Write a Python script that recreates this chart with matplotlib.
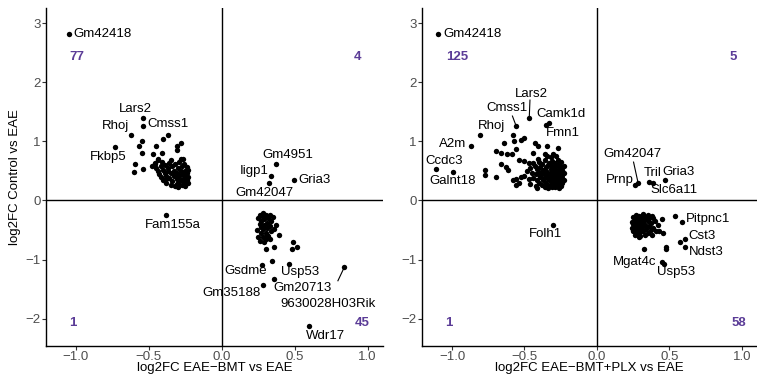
import matplotlib
matplotlib.use("Agg")
import matplotlib.pyplot as plt

plt.rcParams['font.family'] = ['Liberation Sans', 'DejaVu Sans']

# ---------------- EAE-BMT vs EAE ----------------
bmt_genes = ["Gm42418", "Lars2", "Cmss1", "Rhoj", "Fkbp5", "Gm4951", "Iigp1",
             "Gria3", "Gm42047", "Fam155a", "Gsdme", "Usp53", "Gm20713",
             "Gm35188", "9630028H03Rik", "Wdr17"]
bmt_gene_x = [-1.05, -0.54, -0.54, -0.62, -0.73, 0.373, 0.334,
              0.498, 0.325, -0.38, 0.279, 0.46, 0.359,
              0.281, 0.839, 0.601]
bmt_gene_y = [2.82, 1.39, 1.26, 1.11, 0.90, 0.615, 0.417,
              0.34, 0.29, -0.25, -1.085, -1.08, -1.33,
              -1.435, -1.135, -2.13]

bmt_other_x = [
    -0.40, -0.37, -0.545, -0.565, -0.55, -0.45, -0.41, -0.47, -0.595, -0.60,
    -0.54, -0.277, -0.307, -0.307, -0.268, -0.44, -0.46, -0.385,
    -0.46, -0.45, -0.44, -0.43, -0.42, -0.42, -0.41, -0.40, -0.40, -0.39,
    -0.39, -0.38, -0.38, -0.37, -0.37, -0.36, -0.36, -0.35, -0.35, -0.34,
    -0.34, -0.33, -0.33, -0.32, -0.32, -0.31, -0.31, -0.30, -0.30, -0.30,
    -0.29, -0.29, -0.28, -0.28, -0.27, -0.27, -0.27, -0.26, -0.26, -0.26,
    -0.25, -0.25, -0.25, -0.24, -0.24, -0.24, -0.23, -0.23, -0.23, -0.35,
    -0.44, -0.48, -0.31, -0.28,
    0.25, 0.26, 0.26, 0.27, 0.27, 0.28, 0.28, 0.28, 0.29, 0.29,
    0.30, 0.30, 0.30, 0.31, 0.31, 0.32, 0.32, 0.33, 0.33, 0.34,
    0.34, 0.35, 0.36, 0.25, 0.26, 0.29, 0.27, 0.31, 0.37, 0.24,
    0.33, 0.28,
    0.395, 0.306, 0.359, 0.487, 0.515, 0.48, 0.343,
]
bmt_other_y = [
    1.04, 1.11, 1.00, 0.93, 0.81, 0.925, 0.81, 0.78, 0.615, 0.485,
    0.54, 0.965, 0.925, 0.85, 0.695, 0.70, 0.64, 0.37,
    0.62, 0.55, 0.50, 0.45, 0.58, 0.40, 0.66, 0.52, 0.35, 0.46,
    0.60, 0.30, 0.42, 0.55, 0.50, 0.38, 0.64, 0.46, 0.27, 0.58,
    0.33, 0.42, 0.50, 0.62, 0.24, 0.36, 0.47, 0.55, 0.30, 0.22,
    0.42, 0.65, 0.50, 0.34, 0.27, 0.58, 0.45, 0.38, 0.31, 0.62,
    0.50, 0.43, 0.25, 0.56, 0.35, 0.46, 0.40, 0.30, 0.52, 0.68,
    0.68, 0.58, 0.28, 0.70,
    -0.30, -0.25, -0.40, -0.55, -0.35, -0.28, -0.48, -0.62, -0.32, -0.42,
    -0.25, -0.55, -0.66, -0.38, -0.47, -0.30, -0.60, -0.24, -0.44, -0.52,
    -0.35, -0.28, -0.48, -0.62, -0.68, -0.70, -0.45, -0.58, -0.42, -0.50,
    -0.66, -0.22,
    -0.59, -0.826, -0.786, -0.707, -0.78, -0.83, -1.02,
]
bmt_counts = [77, 4, 1, 45]  # upper-left, upper-right, lower-left, lower-right

# ---------------- EAE-BMT+PLX vs EAE ----------------
plx_genes = ["Gm42418", "Lars2", "Cmss1", "Camk1d", "Fmn1", "Rhoj", "A2m",
             "Ccdc3", "Galnt18", "Gm42047", "Prnp", "Tril", "Gria3",
             "Slc6a11", "Folh1", "Pitpnc1", "Cst3", "Ndst3", "Mgat4c", "Usp53"]
plx_gene_x = [-1.094, -0.467, -0.557, -0.33, -0.35, -0.808, -0.869,
              -1.108, -0.99, 0.285, 0.262, 0.36, 0.467,
              0.39, -0.304, 0.59, 0.606, 0.61, 0.45, 0.46]
plx_gene_y = [2.82, 1.39, 1.26, 1.31, 1.27, 1.107, 0.93,
              0.54, 0.485, 0.29, 0.26, 0.32, 0.34,
              0.29, -0.42, -0.37, -0.65, -0.78, -1.04, -1.08]

plx_other_x = [
    -0.578, -0.571, -0.527, -0.506, -0.643, -0.555, -0.425, -0.404, -0.346, -0.27,
    -0.699, -0.664, -0.622, -0.587, -0.537, -0.664, -0.625, -0.613, -0.769, -0.769,
    -0.699, -0.555, -0.525, -0.555, -0.346, -0.304, -0.44, -0.405, -0.502, -0.467,
    -0.58, -0.54,
    -0.46, -0.42, -0.40, -0.38, -0.36, -0.35, -0.33, -0.32, -0.30, -0.29,
    -0.28, -0.27, -0.26, -0.25, -0.24,
    -0.47, -0.44, -0.41, -0.39, -0.37, -0.36, -0.34, -0.33, -0.31, -0.30,
    -0.29, -0.28, -0.27, -0.26, -0.25, -0.24, -0.23,
    -0.45, -0.42, -0.40, -0.39, -0.37, -0.36, -0.35, -0.34, -0.32, -0.31,
    -0.30, -0.29, -0.28, -0.27, -0.26, -0.25, -0.24, -0.23,
    -0.46, -0.43, -0.41, -0.39, -0.37, -0.35, -0.34, -0.32, -0.31, -0.30,
    -0.29, -0.27, -0.26, -0.25, -0.24,
    -0.44, -0.40, -0.38, -0.36, -0.33, -0.31, -0.29, -0.27, -0.25,
    -0.41, -0.34, -0.31, -0.26, -0.50, -0.48, -0.32, -0.28, -0.36, -0.23,
    0.54, 0.574, 0.328, 0.474, 0.48, 0.458, 0.45,
    0.25, 0.25, 0.25, 0.26, 0.26, 0.26, 0.27, 0.27, 0.27, 0.28,
    0.28, 0.28, 0.29, 0.29, 0.29, 0.30, 0.30, 0.30, 0.31, 0.31,
    0.32, 0.32, 0.32, 0.33, 0.33, 0.34, 0.34, 0.35, 0.35, 0.36,
    0.36, 0.37, 0.37, 0.38, 0.38, 0.39, 0.40, 0.41, 0.42, 0.24,
    0.24, 0.29, 0.33, 0.35, 0.39, 0.43,
]
plx_other_y = [
    1.107, 1.005, 1.02, 1.05, 0.977, 0.864, 0.98, 0.92, 0.93, 0.886,
    0.835, 0.80, 0.785, 0.78, 0.683, 0.61, 0.57, 0.51, 0.51, 0.43,
    0.40, 0.37, 0.40, 0.26, 0.76, 0.78, 0.80, 0.71, 0.67, 0.63,
    0.34, 0.30,
    0.28, 0.24, 0.30, 0.26, 0.23, 0.29, 0.25, 0.31, 0.27, 0.23,
    0.30, 0.26, 0.32, 0.24, 0.29,
    0.36, 0.38, 0.34, 0.39, 0.35, 0.40, 0.36, 0.40, 0.34, 0.38,
    0.35, 0.40, 0.36, 0.39, 0.34, 0.38, 0.35,
    0.46, 0.44, 0.48, 0.43, 0.47, 0.44, 0.50, 0.45, 0.48, 0.43,
    0.47, 0.50, 0.44, 0.48, 0.45, 0.50, 0.43, 0.47,
    0.55, 0.58, 0.53, 0.57, 0.52, 0.56, 0.60, 0.54, 0.58, 0.52,
    0.56, 0.60, 0.53, 0.57, 0.52,
    0.64, 0.66, 0.62, 0.68, 0.64, 0.67, 0.63, 0.69, 0.65,
    0.21, 0.21, 0.22, 0.21, 0.42, 0.50, 0.73, 0.76, 0.78, 0.58,
    -0.255, -0.71, -0.826, -0.79, -0.82, -0.55, -0.32,
    -0.28, -0.40, -0.52, -0.33, -0.46, -0.58, -0.24, -0.38, -0.50, -0.30,
    -0.44, -0.56, -0.35, -0.48, -0.26, -0.40, -0.54, -0.60, -0.30, -0.45,
    -0.23, -0.37, -0.52, -0.42, -0.58, -0.28, -0.48, -0.35, -0.55, -0.30,
    -0.44, -0.50, -0.38, -0.27, -0.58, -0.46, -0.34, -0.52, -0.42, -0.36,
    -0.47, -0.62, -0.32, -0.25, -0.29, -0.51,
]
plx_counts = [125, 5, 1, 58]

# label placement: name -> (text x, text y, horizontal alignment)
bmt_text = {
    "Gm42418": (-1.014, 2.82, "left"), "Lars2": (-0.595, 1.55, "center"),
    "Cmss1": (-0.51, 1.30, "left"), "Rhoj": (-0.732, 1.26, "center"),
    "Fkbp5": (-0.778, 0.74, "center"), "Gm4951": (0.45, 0.77, "center"),
    "Iigp1": (0.224, 0.50, "center"), "Gria3": (0.526, 0.34, "left"),
    "Gm42047": (0.29, 0.12, "center"), "Fam155a": (-0.339, -0.41, "center"),
    "Gsdme": (0.165, -1.19, "center"), "Usp53": (0.537, -1.22, "center"),
    "Gm20713": (0.553, -1.49, "center"), "Gm35188": (0.069, -1.57, "center"),
    "9630028H03Rik": (0.727, -1.76, "center"), "Wdr17": (0.709, -2.30, "center"),
}
bmt_leader = {"9630028H03Rik": (0.796, -1.36)}

plx_text = {
    "Gm42418": (-1.059, 2.82, "left"), "Lars2": (-0.451, 1.80, "center"),
    "Cmss1": (-0.618, 1.56, "center"), "Camk1d": (-0.251, 1.46, "center"),
    "Fmn1": (-0.237, 1.135, "center"), "Rhoj": (-0.73, 1.26, "center"),
    "A2m": (-0.997, 0.95, "center"), "Ccdc3": (-1.055, 0.67, "center"),
    "Galnt18": (-0.997, 0.333, "center"), "Gm42047": (0.246, 0.79, "center"),
    "Prnp": (0.156, 0.344, "center"), "Tril": (0.388, 0.457, "center"),
    "Gria3": (0.56, 0.475, "center"), "Slc6a11": (0.532, 0.175, "center"),
    "Folh1": (-0.355, -0.576, "center"), "Pitpnc1": (0.613, -0.322, "left"),
    "Cst3": (0.632, -0.605, "left"), "Ndst3": (0.636, -0.87, "left"),
    "Mgat4c": (0.26, -1.04, "center"), "Usp53": (0.544, -1.22, "center"),
}
plx_leader = {"Lars2": (-0.462, 1.70), "Cmss1": (-0.583, 1.43),
              "Gm42047": (0.253, 0.65)}

# quadrant count positions (x, y)
count_pos = [(-0.99, 2.43), (0.93, 2.43), (-1.02, -2.08), (0.96, -2.08)]
plx_count_pos = [(-0.965, 2.43), (0.94, 2.43), (-1.02, -2.08), (0.98, -2.08)]

PURPLE = "#5B3C97"
TICK_COLOR = "#4D4D4D"
FS = 9.5


def draw_panel(ax, genes, gx, gy, ox, oy, text_pos, leaders, counts, cpos, xlabel):
    ax.axhline(0, color="black", lw=1.0, zorder=1)
    ax.axvline(0, color="black", lw=1.0, zorder=1)
    ax.scatter(ox, oy, s=15, color="black", linewidths=0, zorder=3)
    ax.scatter(gx, gy, s=15, color="black", linewidths=0, zorder=3)
    for name, x, y in zip(genes, gx, gy):
        tx, ty, ha = text_pos[name]
        if name in leaders:
            lx, ly = leaders[name]
            ax.plot([x, lx], [y, ly], color="black", lw=0.8, zorder=2)
        ax.text(tx, ty, name, ha=ha, va="center", fontsize=FS, color="black", zorder=4)
    for c, (cx, cy) in zip(counts, cpos):
        ax.text(cx, cy, str(c), ha="center", va="center", fontsize=FS,
                fontweight="bold", color=PURPLE)
    ax.set_xlim(-1.205, 1.105)
    ax.set_ylim(-2.46, 3.26)
    ax.set_xticks([-1.0, -0.5, 0.0, 0.5, 1.0])
    ax.set_xticklabels(["\u22121.0", "\u22120.5", "0.0", "0.5", "1.0"])
    ax.set_yticks([-2, -1, 0, 1, 2, 3])
    ax.set_yticklabels(["\u22122", "\u22121", "0", "1", "2", "3"])
    for side in ("top", "right"):
        ax.spines[side].set_visible(False)
    for side in ("left", "bottom"):
        ax.spines[side].set_linewidth(1.0)
        ax.spines[side].set_color("black")
    ax.tick_params(axis="both", length=2.75, width=0.8, color="#333333",
                   labelsize=FS, labelcolor=TICK_COLOR, pad=1.2)
    ax.set_xlabel(xlabel, fontsize=FS, labelpad=-0.5)


fig = plt.figure(figsize=(7.57, 3.77), dpi=100)
ax1 = fig.add_axes([46 / 757, 1 - 345.7 / 377, 337 / 757, 337.7 / 377])
ax2 = fig.add_axes([422.3 / 757, 1 - 345.7 / 377, 334.7 / 757, 337.7 / 377])

draw_panel(ax1, bmt_genes, bmt_gene_x, bmt_gene_y, bmt_other_x, bmt_other_y,
           bmt_text, bmt_leader, bmt_counts, count_pos, "log2FC EAE\u2212BMT vs EAE")
draw_panel(ax2, plx_genes, plx_gene_x, plx_gene_y, plx_other_x, plx_other_y,
           plx_text, plx_leader, plx_counts, plx_count_pos,
           "log2FC EAE\u2212BMT+PLX vs EAE")
ax1.set_ylabel("log2FC Control vs EAE", fontsize=FS, labelpad=3)

fig.savefig("out.png", dpi=100)
